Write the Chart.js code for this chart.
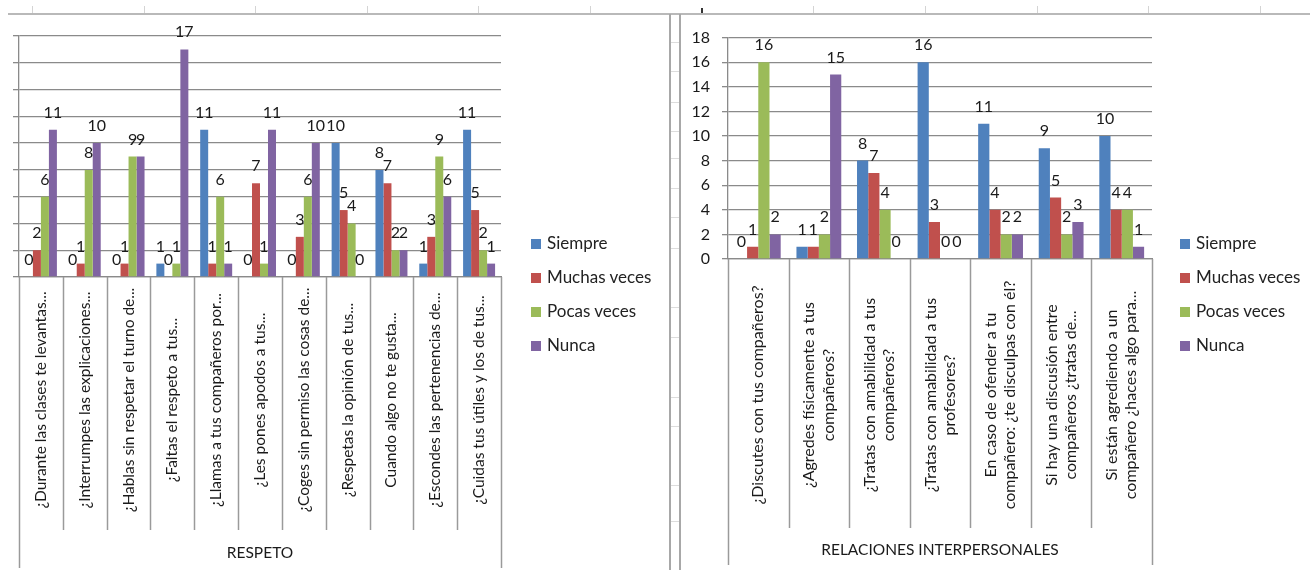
<!DOCTYPE html>
<html><head><meta charset="utf-8">
<script src="https://cdn.jsdelivr.net/npm/chart.js@4.4.1/dist/chart.umd.min.js"></script>
<style>
html,body{margin:0;padding:0;background:#fff;}
body{width:1310px;height:570px;position:relative;overflow:hidden;font-family:Lato,"Liberation Sans",sans-serif;}
.abs{position:absolute;}
.legend{position:absolute;font-size:17px;color:#222;}
.legend div{position:absolute;left:0;white-space:nowrap;line-height:18px;}
.legend span{display:inline-block;width:10px;height:10px;margin-right:6px;vertical-align:0px;}
canvas{position:absolute;}
</style>
</head><body>
<div id="chrome"></div>
<canvas id="respeto" width="670" height="554" style="left:0;top:16px;"></canvas>
<canvas id="relaciones" width="629" height="554" style="left:681px;top:16px;"></canvas>
<div class="legend" id="leg1" style="left:531px;top:234px;"></div>
<div class="legend" id="leg2" style="left:1180px;top:234px;"></div>
<script>
// ---------- data ----------
const seriesNames = ["Siempre", "Muchas veces", "Pocas veces", "Nunca"];
const seriesColors = ["#4F81BD", "#C0504D", "#9BBB59", "#8064A2"];

const respetoCategories = [
  "¿Durante las clases te levantas...",
  "¿Interrumpes las explicaciones...",
  "¿Hablas sin respetar el turno de...",
  "¿Faltas el respeto a tus...",
  "¿Llamas a tus compañeros por...",
  "¿Les pones apodos a tus...",
  "¿Coges sin permiso las cosas de...",
  "¿Respetas la opinión de tus...",
  "Cuando algo no te gusta...",
  "¿Escondes las pertenencias de...",
  "¿Cuidas tus útiles y los de tus..."
];
const respetoSiempre     = [0, 0, 0, 1, 11, 0, 0, 10, 8, 1, 11];
const respetoMuchasVeces = [2, 1, 1, 0, 1, 7, 3, 5, 7, 3, 5];
const respetoPocasVeces  = [6, 8, 9, 1, 6, 1, 6, 4, 2, 9, 2];
const respetoNunca       = [11, 10, 9, 17, 1, 11, 10, 0, 2, 6, 1];
const respetoGroup = "RESPETO";

const relacionesCategories = [
  ["¿Discutes con tus compañeros?"],
  ["¿Agredes físicamente a tus", "compañeros?"],
  ["¿Tratas con amabilidad a tus", "compañeros?"],
  ["¿Tratas con amabilidad a tus", "profesores?"],
  ["En caso de ofender a tu", "compañero: ¿te disculpas con él?"],
  ["Si hay una discusión entre", "compañeros ¿tratas de..."],
  ["Si están agrediendo a un", "compañero ¿haces algo para..."]
];
const relacionesSiempre     = [0, 1, 8, 16, 11, 9, 10];
const relacionesMuchasVeces = [1, 1, 7, 3, 4, 5, 4];
const relacionesPocasVeces  = [16, 2, 4, 0, 2, 2, 4];
const relacionesNunca       = [2, 15, 0, 0, 2, 3, 1];
const relacionesGroup = "RELACIONES INTERPERSONALES";

const yMin = 0, yMax = 18, yStep = 2;

// ---------- page chrome (spreadsheet background) ----------
const chrome = document.getElementById('chrome');
function box(css){ const d=document.createElement('div'); d.className='abs'; d.style.cssText=css; chrome.appendChild(d); }
box('left:8px;top:13px;width:1302px;height:2px;background:#b9b9b9;');
[32,144,255,367,478,590,813,925,1037,1148,1260].forEach(x=>box(`left:${x}px;top:6px;width:1px;height:7px;background:#d4d4d4;`));
box('left:701px;top:8px;width:2px;height:5px;background:#333;');
box('left:669px;top:14px;width:2px;height:556px;background:#a8a8a8;');
box('left:679px;top:14px;width:2px;height:556px;background:#a8a8a8;');
[42,71,102,131,158,188,217,248,307,337,397,426,485,521].forEach(y=>box(`left:671px;top:${y}px;width:8px;height:1px;background:#dcdcdc;`));

// ---------- legends ----------
function buildLegend(id){
  const el=document.getElementById(id);
  seriesNames.forEach((n,i)=>{
    const d=document.createElement('div');
    d.style.top=(i*34)+'px';
    d.innerHTML=`<span style="background:${seriesColors[i]}"></span>${n}`;
    el.appendChild(d);
  });
}
buildLegend('leg1'); buildLegend('leg2');

// ---------- chart helpers ----------
const FONT_FAMILY = 'Lato, "Liberation Sans", sans-serif';
const decorPlugin = {
  id: 'decor',
  afterDatasetsDraw(chart, args, o){
    const ctx = chart.ctx;
    ctx.save();
    ctx.font = `${o.valueSize}px ${FONT_FAMILY}`;
    ctx.fillStyle = '#1a1a1a';
    ctx.textAlign = 'center';
    ctx.textBaseline = 'alphabetic';
    chart.data.datasets.forEach((ds, di) => {
      const meta = chart.getDatasetMeta(di);
      meta.data.forEach((bar, i) => {
        ctx.fillText(String(ds.data[i]), bar.x, bar.y - o.valueGap);
      });
    });
    ctx.restore();
  },
  afterDraw(chart, args, o){
    const ctx = chart.ctx;
    const xs = chart.scales.x;
    const n = chart.data.labels.length;
    ctx.save();
    ctx.strokeStyle = '#9a9a9a';
    ctx.lineWidth = 1.5;
    for (let i = 0; i <= n; i++) {
      const x = Math.round(xs.getPixelForValue(i - 0.5)) + 0.5;
      const bottom = (i === 0 || i === n) ? o.outerBottom : o.innerBottom;
      ctx.beginPath(); ctx.moveTo(x, xs.top); ctx.lineTo(x, bottom); ctx.stroke();
    }
    ctx.fillStyle = '#1a1a1a';
    ctx.font = `${o.labelSize}px ${FONT_FAMILY}`;
    ctx.textAlign = 'center';
    ctx.textBaseline = 'middle';
    const lh = o.labelSize * 1.2;
    chart.data.labels.forEach((lab, i) => {
      const lines = Array.isArray(lab) ? lab : [lab];
      const x = xs.getPixelForValue(i);
      ctx.save();
      ctx.translate(x, o.labelCenter);
      ctx.rotate(-Math.PI / 2);
      lines.forEach((ln, j) => ctx.fillText(ln, 0, (j - (lines.length - 1) / 2) * lh));
      ctx.restore();
    });
    ctx.font = `${o.groupSize}px ${FONT_FAMILY}`;
    ctx.fillText(o.group, (xs.left + xs.right) / 2, o.groupY);
    ctx.restore();
  }
};

function makeChart(id, labels, data, cfg){
  return new Chart(document.getElementById(id), {
    type: 'bar',
    data: {
      labels: labels,
      datasets: seriesNames.map((name, i) => ({
        label: name, data: data[i], backgroundColor: seriesColors[i],
        borderWidth: 0, categoryPercentage: cfg.catPct, barPercentage: 1
      }))
    },
    options: {
      responsive: false, animation: false, devicePixelRatio: 1,
      layout: { padding: { top: cfg.padTop, right: cfg.padRight, left: 0, bottom: 0 } },
      plugins: {
        legend: { display: false }, tooltip: { enabled: false },
        decor: cfg.decor
      },
      scales: {
        x: {
          grid: { display: false },
          border: { display: true, color: '#8a8a8a', width: 1.3 },
          ticks: { display: false },
          afterFit(s){ s.height = cfg.xHeight; }
        },
        y: {
          min: yMin, max: yMax,
          ticks: { stepSize: yStep, display: cfg.yLabels, padding: 12,
                   font: { family: FONT_FAMILY, size: 16 }, color: '#1a1a1a' },
          grid: { color: '#8a8a8a', lineWidth: 1.3, drawTicks: true, tickLength: 6, tickColor: '#8a8a8a' },
          border: { display: true, color: '#8a8a8a', width: 1.3 },
          afterFit(s){ s.width = cfg.yWidth; }
        }
      }
    },
    plugins: [decorPlugin]
  });
}

makeChart('respeto', respetoCategories,
  [respetoSiempre, respetoMuchasVeces, respetoPocasVeces, respetoNunca],
  { catPct: 0.73, padTop: 20, padRight: 169, xHeight: 293, yWidth: 19, yLabels: false,
    decor: { valueSize: 16, valueGap: 12, labelSize: 15.5, labelCenter: 384, innerBottom: 514, outerBottom: 552,
             group: respetoGroup, groupSize: 15.5, groupY: 537 } });

makeChart('relaciones', relacionesCategories,
  [relacionesSiempre, relacionesMuchasVeces, relacionesPocasVeces, relacionesNunca],
  { catPct: 0.74, padTop: 20, padRight: 158, xHeight: 311, yWidth: 47, yLabels: true,
    decor: { valueSize: 16, valueGap: 12, labelSize: 16, labelCenter: 379, innerBottom: 512, outerBottom: 549,
             group: relacionesGroup, groupSize: 15.5, groupY: 534 } });
</script>
</body></html>
